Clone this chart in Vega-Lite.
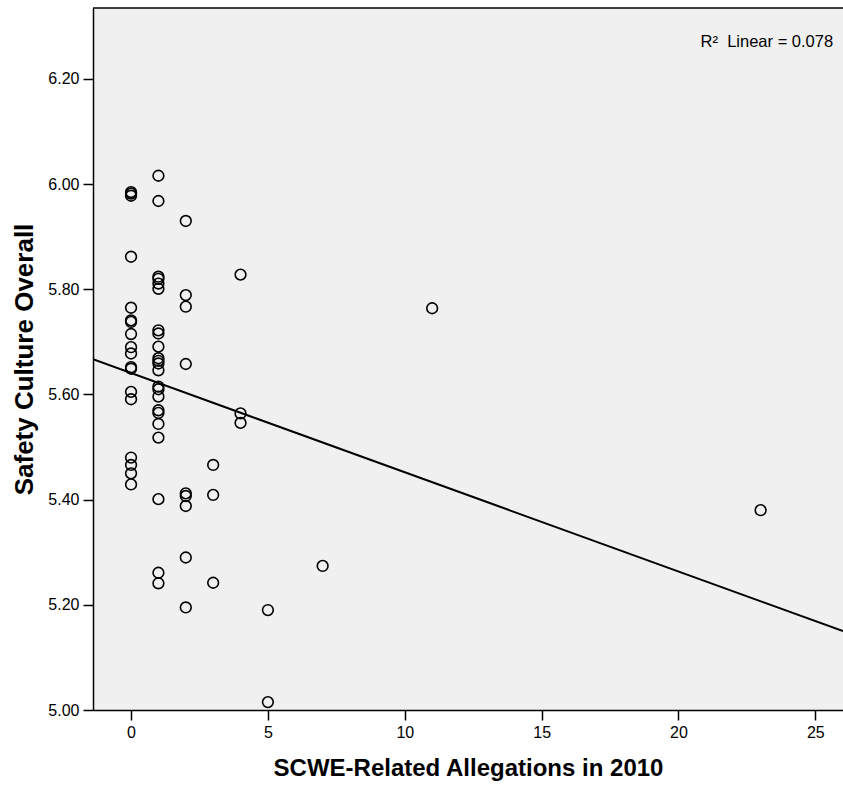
{
  "$schema": "https://vega.github.io/schema/vega-lite/v6.json",
  "width": 750,
  "height": 702,
  "autosize": {"type": "none"},
  "padding": {"left": 93, "top": 8, "right": 0, "bottom": 75},
  "background": "white",
  "config": {
    "view": {"fill": "#F0F0F0", "stroke": null},
    "font": "Liberation Sans",
    "axis": {
      "domainColor": "#000000",
      "domainWidth": 1.5,
      "tickColor": "#000000",
      "tickWidth": 1.5,
      "tickSize": 10,
      "labelColor": "#000000",
      "labelFont": "Liberation Sans",
      "labelFontSize": 16,
      "titleColor": "#000000",
      "titleFont": "Liberation Sans",
      "titleFontSize": 24,
      "titleFontWeight": "bold",
      "grid": false
    }
  },
  "datasets": {
    "points": [
      {"alleg": 0, "sc": 5.985}, {"alleg": 0, "sc": 5.982}, {"alleg": 0, "sc": 5.978},
      {"alleg": 0, "sc": 5.862}, {"alleg": 0, "sc": 5.765}, {"alleg": 0, "sc": 5.741},
      {"alleg": 0, "sc": 5.738}, {"alleg": 0, "sc": 5.715}, {"alleg": 0, "sc": 5.690},
      {"alleg": 0, "sc": 5.678}, {"alleg": 0, "sc": 5.652}, {"alleg": 0, "sc": 5.649},
      {"alleg": 0, "sc": 5.605}, {"alleg": 0, "sc": 5.591}, {"alleg": 0, "sc": 5.480},
      {"alleg": 0, "sc": 5.466}, {"alleg": 0, "sc": 5.450}, {"alleg": 0, "sc": 5.429},
      {"alleg": 1, "sc": 6.016}, {"alleg": 1, "sc": 5.968}, {"alleg": 1, "sc": 5.824},
      {"alleg": 1, "sc": 5.820}, {"alleg": 1, "sc": 5.811}, {"alleg": 1, "sc": 5.801},
      {"alleg": 1, "sc": 5.722}, {"alleg": 1, "sc": 5.716}, {"alleg": 1, "sc": 5.691},
      {"alleg": 1, "sc": 5.669}, {"alleg": 1, "sc": 5.664}, {"alleg": 1, "sc": 5.659},
      {"alleg": 1, "sc": 5.646}, {"alleg": 1, "sc": 5.615}, {"alleg": 1, "sc": 5.610},
      {"alleg": 1, "sc": 5.596}, {"alleg": 1, "sc": 5.570}, {"alleg": 1, "sc": 5.565},
      {"alleg": 1, "sc": 5.544}, {"alleg": 1, "sc": 5.518}, {"alleg": 1, "sc": 5.401},
      {"alleg": 1, "sc": 5.261}, {"alleg": 1, "sc": 5.241},
      {"alleg": 2, "sc": 5.930}, {"alleg": 2, "sc": 5.789}, {"alleg": 2, "sc": 5.767},
      {"alleg": 2, "sc": 5.658}, {"alleg": 2, "sc": 5.412}, {"alleg": 2, "sc": 5.407},
      {"alleg": 2, "sc": 5.388}, {"alleg": 2, "sc": 5.290}, {"alleg": 2, "sc": 5.195},
      {"alleg": 3, "sc": 5.466}, {"alleg": 3, "sc": 5.409}, {"alleg": 3, "sc": 5.242},
      {"alleg": 4, "sc": 5.828}, {"alleg": 4, "sc": 5.564}, {"alleg": 4, "sc": 5.546},
      {"alleg": 5, "sc": 5.190}, {"alleg": 5, "sc": 5.015},
      {"alleg": 7, "sc": 5.274}, {"alleg": 11, "sc": 5.764}, {"alleg": 23, "sc": 5.380}
    ],
    "fit": [
      {"alleg": -1.39, "sc": 5.667},
      {"alleg": 26.01, "sc": 5.150}
    ],
    "label": [
      {"alleg": 25.65, "sc": 6.270, "text": "R²\u00a0 Linear = 0.078"}
    ]
  },
  "layer": [
    {
      "data": {"name": "fit"},
      "mark": {"type": "line", "color": "#000000", "strokeWidth": 2, "clip": true},
      "encoding": {
        "x": {
          "field": "alleg", "type": "quantitative",
          "scale": {"domain": [-1.39, 26.01], "nice": false, "zero": false},
          "axis": {"values": [0, 5, 10, 15, 20, 25], "title": "SCWE-Related Allegations in 2010", "labelPadding": 4, "titlePadding": 16}
        },
        "y": {
          "field": "sc", "type": "quantitative",
          "scale": {"domain": [5.0, 6.335], "nice": false, "zero": false},
          "axis": {"values": [5.0, 5.2, 5.4, 5.6, 5.8, 6.0, 6.2], "format": ".2f", "title": "Safety Culture Overall", "titleFontSize": 26, "labelPadding": 4, "titlePadding": 10}
        }
      }
    },
    {
      "data": {"name": "points"},
      "mark": {"type": "point", "shape": "circle", "filled": false, "stroke": "#000000", "strokeWidth": 1.6, "size": 115, "opacity": 1},
      "encoding": {
        "x": {"field": "alleg", "type": "quantitative"},
        "y": {"field": "sc", "type": "quantitative"}
      }
    },
    {
      "data": {"name": "label"},
      "mark": {"type": "text", "align": "right", "baseline": "middle", "fontSize": 16.5, "font": "Liberation Sans", "color": "#000000"},
      "encoding": {
        "x": {"field": "alleg", "type": "quantitative"},
        "y": {"field": "sc", "type": "quantitative"},
        "text": {"field": "text"}
      }
    },
    {
      "data": {"values": [{"sc": 6.335}]},
      "mark": {"type": "rule", "color": "#000000", "strokeWidth": 1.5},
      "encoding": {
        "y": {"field": "sc", "type": "quantitative"}
      }
    }
  ]
}
